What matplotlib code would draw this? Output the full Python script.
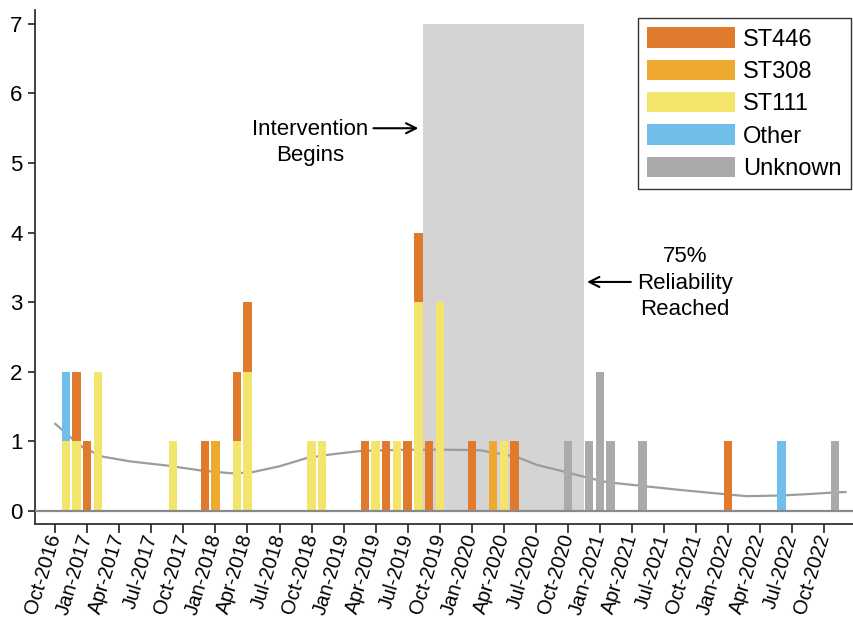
import matplotlib
matplotlib.use("Agg")
import matplotlib.pyplot as plt
from matplotlib.patches import Patch
import numpy as np

plt.rcParams['font.family'] = ['Liberation Sans', 'DejaVu Sans']

# ---- data ----
start_year, start_month = 2016, 10  # axis origin: Oct-2016
months = ["Nov-2016", "Dec-2016", "Jan-2017", "Feb-2017", "Sep-2017", "Dec-2017",
          "Jan-2018", "Mar-2018", "Apr-2018", "Oct-2018", "Nov-2018", "Mar-2019",
          "Apr-2019", "May-2019", "Jun-2019", "Jul-2019", "Aug-2019", "Sep-2019",
          "Oct-2019", "Jan-2020", "Mar-2020", "Apr-2020", "May-2020", "Oct-2020",
          "Dec-2020", "Jan-2021", "Feb-2021", "May-2021", "Jan-2022", "Jun-2022",
          "Nov-2022"]
st111   = [1, 1, 0, 2, 1, 0, 0, 1, 2, 1, 1, 0, 1, 0, 1, 0, 3, 0, 3, 0, 0, 1, 0, 0, 0, 0, 0, 0, 0, 0, 0]
st308   = [0, 0, 0, 0, 0, 0, 1, 0, 0, 0, 0, 0, 0, 0, 0, 0, 0, 0, 0, 0, 1, 0, 0, 0, 0, 0, 0, 0, 0, 0, 0]
st446   = [0, 1, 1, 0, 0, 1, 0, 1, 1, 0, 0, 1, 0, 1, 0, 1, 1, 1, 0, 1, 0, 0, 1, 0, 0, 0, 0, 0, 1, 0, 0]
other   = [1, 0, 0, 0, 0, 0, 0, 0, 0, 0, 0, 0, 0, 0, 0, 0, 0, 0, 0, 0, 0, 0, 0, 0, 0, 0, 0, 0, 0, 1, 0]
unknown = [0, 0, 0, 0, 0, 0, 0, 0, 0, 0, 0, 0, 0, 0, 0, 0, 0, 0, 0, 0, 0, 0, 0, 1, 1, 2, 1, 1, 0, 0, 1]

trend_x = [0, 1.7, 2.6, 4.4, 7.0, 10.5, 13.6, 16.4, 18.3, 21, 23.6, 25.8, 28.6, 32, 36,
           39.8, 42, 43.3, 45.1, 47.6, 50, 51.7, 54.8, 58.5, 62.6, 64.8, 68, 70.5, 72.6, 74]
trend_y = [1.25, 1.02, 0.91, 0.78, 0.71, 0.65, 0.58, 0.54, 0.55, 0.64, 0.76, 0.81, 0.86,
           0.875, 0.88, 0.87, 0.81, 0.77, 0.66, 0.565, 0.47, 0.41, 0.36, 0.30, 0.24, 0.21,
           0.22, 0.24, 0.26, 0.27]

tick_labels = ["Oct-2016", "Jan-2017", "Apr-2017", "Jul-2017", "Oct-2017", "Jan-2018",
               "Apr-2018", "Jul-2018", "Oct-2018", "Jan-2019", "Apr-2019", "Jul-2019",
               "Oct-2019", "Jan-2020", "Apr-2020", "Jul-2020", "Oct-2020", "Jan-2021",
               "Apr-2021", "Jul-2021", "Oct-2021", "Jan-2022", "Apr-2022", "Jul-2022",
               "Oct-2022"]

intervention_start = 34.45
reliability_reached = 49.5

MON = {m: i for i, m in enumerate(["Jan", "Feb", "Mar", "Apr", "May", "Jun", "Jul",
                                   "Aug", "Sep", "Oct", "Nov", "Dec"], start=1)}

def month_index(label):
    mo, yr = label.split("-")
    return (int(yr) - start_year) * 12 + MON[mo] - start_month

x = np.array([month_index(m) for m in months])
ticks = [month_index(t) for t in tick_labels]

colors = {"ST446": "#E07B2D", "ST308": "#EEAA30", "ST111": "#F3E56B",
          "Other": "#70BFEA", "Unknown": "#AAAAAA"}

fig = plt.figure(figsize=(8.54, 6.19), dpi=100)
ax = fig.add_axes([35/854, 1 - 524/619, 1 - 35/854, (524 - 10)/619])

# shaded intervention period
ax.fill_between([intervention_start, reliability_reached], 0, 7, color="#D4D4D4",
                linewidth=0, zorder=0)

# trend line
ax.plot(trend_x, trend_y, color="#9C9C9C", lw=1.6, zorder=1)

# stacked bars
w = 0.78
bottom = np.zeros(len(x))
for name, vals in [("ST111", st111), ("ST308", st308), ("ST446", st446),
                   ("Other", other), ("Unknown", unknown)]:
    v = np.array(vals, dtype=float)
    ax.bar(x, v, width=w, bottom=bottom, color=colors[name], linewidth=0, zorder=2)
    bottom += v

ax.axhline(0, color="#8A8A8A", lw=1.6, zorder=3)

ax.set_xlim(-1.9, 74.8)
ax.set_ylim(-0.19, 7.2)
ax.set_yticks(range(0, 8))
ax.set_xticks(ticks)
ax.set_xticklabels(tick_labels, rotation=73, ha="right", va="center",
                   rotation_mode="anchor")
ax.tick_params(axis="x", length=6.5, width=1.3, labelsize=14.5, pad=1, color="#333333")
ax.tick_params(axis="y", length=5, width=1.3, labelsize=16, pad=4, color="#333333")
for s in ["top", "right"]:
    ax.spines[s].set_visible(False)
for s in ["left", "bottom"]:
    ax.spines[s].set_linewidth(1.3)
    ax.spines[s].set_color("#333333")

# annotations
ax.text(23.9, 5.3, "Intervention\nBegins", ha="center", va="center", fontsize=16,
        linespacing=1.3)
ax.annotate("", xy=(34.0, 5.5), xytext=(29.8, 5.5),
            arrowprops=dict(arrowstyle="->", lw=1.5, color="black",
                            mutation_scale=18, shrinkA=0, shrinkB=0))
ax.text(58.95, 3.27, "75%\nReliability\nReached", ha="center", va="center",
        fontsize=16, linespacing=1.35)
ax.annotate("", xy=(49.8, 3.29), xytext=(53.9, 3.29),
            arrowprops=dict(arrowstyle="->", lw=1.5, color="black",
                            mutation_scale=18, shrinkA=0, shrinkB=0))

handles = [Patch(facecolor=colors[n], edgecolor="none", label=n)
           for n in ["ST446", "ST308", "ST111", "Other", "Unknown"]]
leg = ax.legend(handles=handles, loc="upper right",
                bbox_to_anchor=(851/854, 1 - 18/619), bbox_transform=fig.transFigure,
                borderaxespad=0, fontsize=17, frameon=True, fancybox=False,
                handlelength=3.7, handleheight=0.95, labelspacing=0.38,
                handletextpad=0.35, borderpad=0.4)
leg.get_frame().set_edgecolor("black")
leg.get_frame().set_linewidth(1.0)

fig.savefig("out.png", dpi=100)
